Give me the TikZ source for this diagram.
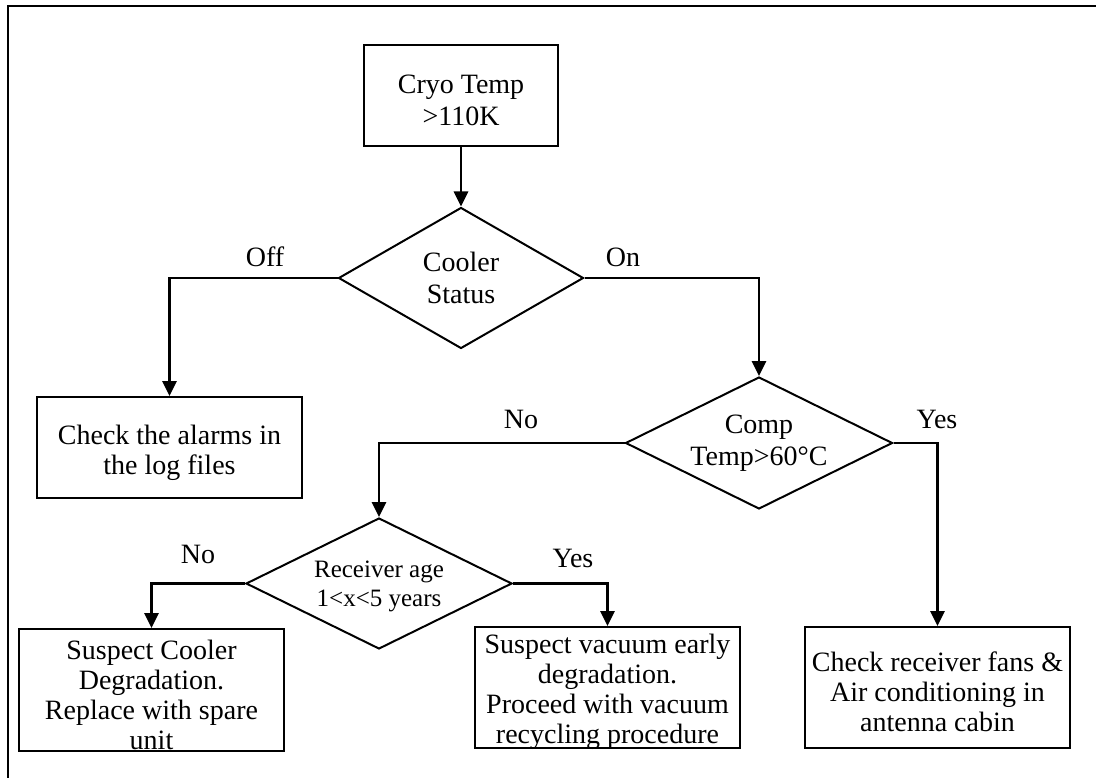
\documentclass[tikz,border=0pt]{standalone}
\usepackage{fontspec}
\setmainfont{Liberation Serif}
\usetikzlibrary{shapes.geometric,arrows.meta}
\tikzset{
  box/.style={draw, line width=2pt, rectangle, inner sep=0pt},
  txt/.style={inner sep=0pt, align=center, font=\fontsize{28}{30}\selectfont},
  dia/.style={draw, line width=2pt, diamond, aspect=2, inner sep=0pt, align=center,
    font=\fontsize{28}{32}\selectfont},
  lbl/.style={inner sep=0pt, font=\fontsize{28}{30}\selectfont, anchor=base},
  arr/.style={line width=2.8pt, -{Triangle[length=15pt,width=14pt]}},
  frame/.style={line width=2.2pt}
}
\begin{document}
\begin{tikzpicture}[x=1pt,y=-1pt]
\useasboundingbox (0,0) rectangle (1096,778);
% outer frame (open to the right and bottom)
\coordinate (ftr) at (1096,6);
\coordinate (ftl) at (8,6);
\coordinate (fbl) at (8,778);
\draw[frame] (ftr) -- (ftl) -- (fbl);

% boxes
\node[box, minimum width=194pt, minimum height=101pt] (cryo) at (461,95.5) {};
\node[txt] (cryot) at ([yshift=-5pt]cryo.center) {Cryo Temp\\[2pt]>110K};
\node[box, minimum width=265pt, minimum height=101pt] (alarms) at (169.5,447.5) {};
\node[txt] (alarmst) at ([yshift=-5pt]alarms.center) {Check the alarms in\\the log files};
\node[box, minimum width=265pt, minimum height=122pt] (spare) at (151.5,690) {};
\node[txt] (sparet) at ([yshift=-5pt]spare.center) {Suspect Cooler\\Degradation.\\Replace with spare\\unit};
\node[box, minimum width=265pt, minimum height=121pt] (vac) at (607.5,687.5) {};
\node[txt] (vact) at ([yshift=-4pt]vac.center) {Suspect vacuum early\\degradation.\\Proceed with vacuum\\recycling procedure};
\node[box, minimum width=265pt, minimum height=121pt] (fans) at (937.5,687.5) {};
\node[txt] (fanst) at ([yshift=-4pt]fans.center) {Check receiver fans \&\\Air conditioning in\\antenna cabin};

% diamonds
\node[dia, minimum width=245pt, minimum height=141pt] (cooler) at (461,278) {Cooler\\Status};
\node[dia, minimum width=267pt, minimum height=132pt] (comp) at (759,443) {Comp\\Temp>60°C};
\node[dia, minimum width=266pt, minimum height=131pt] (recv) at (379,583.5) {};
\node[txt, font=\fontsize{25}{29}\selectfont] (recvt) at ([yshift=-3pt]recv.center) {Receiver age\\1<x<5 years};

% connectors
\draw[arr] (cryo.south) -- (cooler.north);
\draw[arr] (cooler.west) -| (alarms.north);
\draw[arr] (cooler.east) -| (comp.north);
\draw[arr] (comp.west) -| (recv.north);
\draw[arr] (comp.east) -| (fans.north);
\draw[arr] (recv.west) -| (spare.north);
\draw[arr] (recv.east) -| (vac.north);

% branch labels
\node[lbl] (loff) at (265,267) {Off};
\node[lbl] (lon) at (623,267) {On};
\node[lbl] (lcno) at (521,428) {No};
\node[lbl] (lcyes) at (937,428) {Yes};
\node[lbl] (lrno) at (198,563) {No};
\node[lbl] (lryes) at (573,567) {Yes};
\end{tikzpicture}
\end{document}
